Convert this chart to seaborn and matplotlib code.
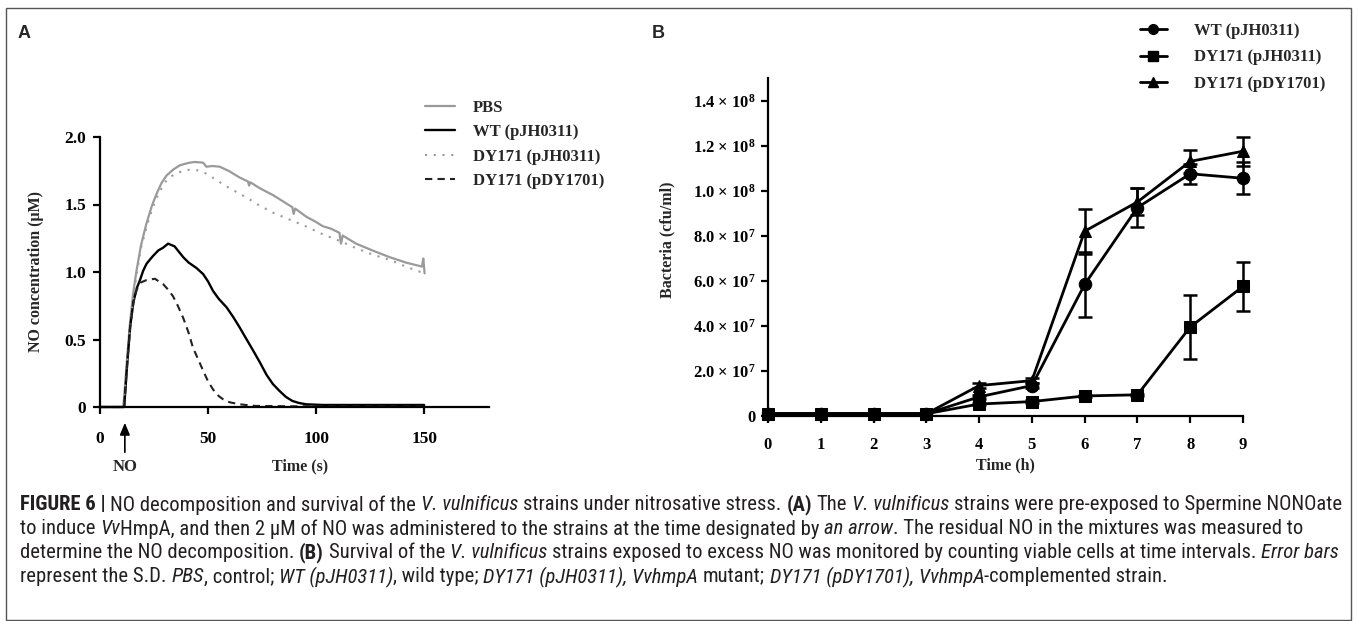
import numpy as np
import pandas as pd
import matplotlib
matplotlib.use("Agg")
import matplotlib.pyplot as plt
import seaborn as sns
from matplotlib import font_manager
from matplotlib.patches import Rectangle
from matplotlib.lines import Line2D

# ---------------- Data: panel A (NO decomposition) ----------------
pbs_t = [0, 10.8, 12.5, 13.8, 15.4, 16.9, 19, 21.5, 24, 26.2, 28.5, 30.8, 34, 36.9, 39, 41.5, 44,
         47.7, 49.2, 52, 55.4, 60, 64.6, 68.5, 69, 69.5, 74, 80, 85, 89, 89.6, 90.3, 95.4, 100, 103,
         107, 110.8, 111.5, 112.3, 118.5, 126, 134, 141.5, 149, 149.6, 150.2]
pbs_v = [0, 0, 0.35, 0.61, 0.85, 1.01, 1.20, 1.36, 1.49, 1.58, 1.66, 1.715, 1.76, 1.79, 1.80, 1.81,
         1.815, 1.81, 1.78, 1.785, 1.78, 1.745, 1.70, 1.67, 1.64, 1.665, 1.62, 1.57, 1.52, 1.48, 1.43,
         1.47, 1.41, 1.37, 1.34, 1.32, 1.29, 1.21, 1.27, 1.21, 1.16, 1.11, 1.07, 1.04, 1.10, 0.99]

dy_t = [0, 10.8, 12.5, 13.8, 15.4, 16.9, 19, 21.5, 24, 26.2, 28.5, 30.8, 34, 36.9, 40, 43, 46, 49,
        52, 55, 60, 64.6, 69, 73, 80, 89, 95, 103, 111, 118, 126, 134, 141.5, 150]
dy_v = [0, 0, 0.33, 0.58, 0.80, 0.98, 1.18, 1.33, 1.46, 1.55, 1.62, 1.68, 1.72, 1.74, 1.755, 1.76,
        1.75, 1.73, 1.70, 1.67, 1.62, 1.58, 1.54, 1.50, 1.44, 1.38, 1.34, 1.28, 1.23, 1.18, 1.13,
        1.09, 1.04, 0.99]

wt_t = [0, 11.2, 12.5, 14, 15.5, 17, 18.5, 20, 21.5, 23, 24.6, 27, 29.2, 31.5, 33, 34.5, 36, 38.5,
        41, 44.6, 47.7, 50, 52.3, 55, 58.5, 61.5, 64.6, 67.5, 70.8, 74, 77, 80, 83, 86, 89, 92,
        95.4, 103, 115, 130, 150]
wt_v = [0, 0, 0.30, 0.60, 0.78, 0.88, 0.94, 1.01, 1.06, 1.09, 1.12, 1.16, 1.18, 1.21, 1.20, 1.19,
        1.16, 1.11, 1.07, 1.03, 0.985, 0.93, 0.86, 0.80, 0.74, 0.67, 0.59, 0.51, 0.42, 0.33, 0.24,
        0.17, 0.12, 0.075, 0.045, 0.03, 0.02, 0.015, 0.015, 0.015, 0.015]

comp_t = [0, 11.2, 12.5, 14, 15.5, 17, 18.5, 21.5, 25.4, 29.2, 31.5, 33.8, 36, 38.5, 41, 43, 45.5,
          47.7, 50, 52.3, 55, 57, 60, 64.6, 72, 90, 120, 150]
comp_v = [0, 0, 0.30, 0.60, 0.78, 0.87, 0.92, 0.94, 0.95, 0.91, 0.87, 0.82, 0.75, 0.66, 0.55, 0.44,
          0.35, 0.27, 0.19, 0.13, 0.08, 0.057, 0.035, 0.02, 0.008, 0.005, 0.005, 0.005]

no_time = 11.5
labels_a = ["PBS", "WT (pJH0311)", "DY171 (pJH0311)", "DY171 (pDY1701)"]

# ---------------- Data: panel B (survival) ----------------
hours = [0, 1, 2, 3, 4, 5, 6, 7, 8, 9]
wt_b = [1e6, 1e6, 1e6, 1e6, 8.5e6, 1.35e7, 5.84e7, 9.25e7, 1.075e8, 1.055e8]
wt_sd = [0, 0, 0, 0, 1e6, 1e6, 1.45e7, 0.85e7, 0.45e7, 0.7e7]
mut_b = [1e6, 1e6, 1e6, 1e6, 5.3e6, 6.4e6, 8.9e6, 9.4e6, 3.95e7, 5.75e7]
mut_sd = [0, 0, 0, 0, 5e5, 5e5, 5e5, 5e5, 1.4e7, 1.1e7]
comp_b = [1e6, 1e6, 1e6, 1e6, 1.35e7, 1.57e7, 8.2e7, 9.5e7, 1.13e8, 1.175e8]
comp_sd = [0, 0, 0, 0, 1e6, 1e6, 1.0e7, 0.6e7, 0.5e7, 0.65e7]
labels_b = ["WT (pJH0311)", "DY171 (pJH0311)", "DY171 (pDY1701)"]
yticks_b = [0, 2e7, 4e7, 6e7, 8e7, 1e8, 1.2e8, 1.4e8]
yticklabels_b = ["0", "2.0 × 10$^{7}$", "4.0 × 10$^{7}$", "6.0 × 10$^{7}$", "8.0 × 10$^{7}$",
                 "1.0 × 10$^{8}$", "1.2 × 10$^{8}$", "1.4 × 10$^{8}$"]

# ---------------- Style ----------------
sns.set_theme(style="ticks")
SERIF = ["Liberation Serif", "DejaVu Serif"]
plt.rcParams["font.family"] = SERIF
plt.rcParams["font.weight"] = "bold"
plt.rcParams["axes.labelweight"] = "bold"
plt.rcParams["mathtext.fontset"] = "custom"
plt.rcParams["mathtext.rm"] = "Liberation Serif:bold"
plt.rcParams["mathtext.bf"] = "Liberation Serif:bold"
plt.rcParams["mathtext.it"] = "Liberation Serif:bold"
plt.rcParams["mathtext.default"] = "bf"

W, H = 1357, 621
fig = plt.figure(figsize=(W / 100, H / 100), dpi=100)
fig.patch.set_facecolor("white")


def px_axes(left, top, right, bottom):
    return fig.add_axes([left / W, 1 - bottom / H, (right - left) / W, (bottom - top) / H])


def style_axes(ax, xlab_pad, ylab_pad, xsize, ysize):
    for s in ["top", "right"]:
        ax.spines[s].set_visible(False)
    for s in ["left", "bottom"]:
        ax.spines[s].set_linewidth(1.6)
        ax.spines[s].set_color("black")
    ax.tick_params(axis="x", direction="out", length=5, width=1.6, pad=xlab_pad,
                   labelsize=xsize, colors="black")
    ax.tick_params(axis="y", direction="out", length=5, width=1.6, pad=ylab_pad,
                   labelsize=ysize, colors="black")
    for lab in ax.get_xticklabels() + ax.get_yticklabels():
        lab.set_fontweight("bold")
    ax.set_facecolor("white")


# ---------------- Panel A ----------------
axA = px_axes(100, 137, 489, 407)
sns.lineplot(x=pbs_t, y=pbs_v, ax=axA, color="#9a9a9a", lw=1.6, clip_on=False, label=labels_a[0])
sns.lineplot(x=wt_t, y=wt_v, ax=axA, color="black", lw=1.7, clip_on=False, label=labels_a[1])
sns.lineplot(x=dy_t, y=dy_v, ax=axA, color="#9a9a9a", lw=1.5, clip_on=False,
             linestyle=(0, (1, 3.2)), label=labels_a[2])
sns.lineplot(x=comp_t, y=comp_v, ax=axA, color="#222222", lw=1.5, clip_on=False,
             linestyle=(0, (3.5, 2.5)), label=labels_a[3])
axA.set_xlim(0, 180)
axA.set_ylim(0, 2.0)
axA.set_xticks([0, 50, 100, 150])
axA.set_xticklabels(["0", "50", "100", "150"])
axA.set_yticks([0, 0.5, 1.0, 1.5, 2.0])
axA.set_yticklabels(["0", "0.5", "1.0", "1.5", "2.0"])
style_axes(axA, 12, 5, 12.5, 12.5)
axA.set_xlabel("Time (s)", fontsize=11.5, fontweight="bold")
axA.set_ylabel("NO concentration (μM)", fontsize=11.5, fontweight="bold")
axA.xaxis.set_label_coords((300 - 100) / 389, -(458 - 407) / 270)
axA.yaxis.set_label_coords((44 - 100) / 389, (407 - 272) / 270)
hA, lA = axA.get_legend_handles_labels()
axA.get_legend().remove()
fig.legend(hA, lA, loc="upper left", bbox_to_anchor=(425 / W, 1 - 100 / H),
           bbox_transform=fig.transFigure, frameon=False, borderpad=0, borderaxespad=0,
           handlelength=1.8, handletextpad=1.05, labelspacing=0.5,
           prop={"family": SERIF, "weight": "bold", "size": 12})

# arrow marking NO addition
axA.annotate("", xy=(no_time, -13 / 270), xycoords=("data", "axes fraction"),
             xytext=(no_time, -48 / 270), textcoords=("data", "axes fraction"),
             arrowprops=dict(arrowstyle="-|>,head_length=0.6,head_width=0.25", color="black", lw=1.2),
             annotation_clip=False)
axA.text(no_time, -60 / 270, "NO", transform=axA.get_xaxis_transform(), ha="center",
         va="center", fontsize=12, fontweight="bold")

# ---------------- Panel B ----------------
axB = px_axes(768, 78, 1243, 416)
series_b = [(comp_b, comp_sd, "^", labels_b[2]), (wt_b, wt_sd, "o", labels_b[0]),
            (mut_b, mut_sd, "s", labels_b[1])]
hrs = np.array(hours)
for vals, sd, mk, lab in series_b:
    v = np.array(vals)
    s = np.array(sd)
    sns.lineplot(x=hours, y=vals, ax=axB, color="black", lw=2.0, marker=mk, markersize=9,
                 markeredgecolor="black", markerfacecolor="black", clip_on=False)
    m = s > 0
    axB.errorbar(hrs[m], v[m], yerr=s[m], fmt="none", ecolor="black", elinewidth=1.8,
                 capsize=5, capthick=1.8, clip_on=False)
axB.set_xlim(0, 9)
axB.set_ylim(0, 1.5e8)
axB.set_xticks(hours)
axB.set_xticklabels([str(h) for h in hours])
axB.set_yticks(yticks_b)
axB.set_yticklabels(yticklabels_b)
style_axes(axB, 10, 4, 12, 12)
axB.set_xlabel("Time (h)", fontsize=11.5, fontweight="bold")
axB.set_ylabel("Bacteria (cfu/ml)", fontsize=11.5, fontweight="bold")
axB.xaxis.set_label_coords((1005 - 768) / 475, -(457 - 416) / 338)
axB.yaxis.set_label_coords((675 - 768) / 475, (416 - 240) / 338)
hB = [Line2D([], [], color="black", lw=2.0, marker=mk, markersize=7) for mk in ["o", "s", "^"]]
fig.legend(hB, labels_b, loc="upper left", bbox_to_anchor=(1140 / W, 1 - 23 / H),
           bbox_transform=fig.transFigure, frameon=False, borderpad=0, borderaxespad=0,
           handlelength=1.6, handletextpad=1.65, labelspacing=0.62,
           prop={"family": SERIF, "weight": "bold", "size": 12})

# ---------------- Panel letters ----------------
SANS_BOLD = ["Liberation Sans", "DejaVu Sans"]
fig.text(18 / W, 1 - 34 / H, "A", fontsize=13, fontweight="bold", family=SANS_BOLD, va="center")
fig.text(652 / W, 1 - 34 / H, "B", fontsize=13, fontweight="bold", family=SANS_BOLD, va="center")

# ---------------- Frame ----------------
fig.add_artist(Rectangle((6 / W, 1 - 620 / H), (1351 - 6) / W, (620 - 8) / H,
                         transform=fig.transFigure, fill=False, edgecolor="#555555", lw=1.0))

# ---------------- Caption ----------------
names = {f.name for f in font_manager.fontManager.ttflist}
cap_family = "Liberation Sans"
for cand in ["Liberation Sans Narrow", "Roboto Condensed", "Open Sans Condensed"]:
    if cand in names:
        cap_family = cand
        break
CAP = [cap_family, "DejaVu Sans"]

caption = [
    [("FIGURE 6 |", "b"), (" NO decomposition and survival of the ", "n"), ("V. vulnificus", "i"),
     (" strains under nitrosative stress. ", "n"), ("(A)", "b"), (" The ", "n"),
     ("V. vulnificus", "i"), (" strains were pre-exposed to Spermine NONOate", "n")],
    [("to induce ", "n"), ("Vv", "i"),
     ("HmpA, and then 2 μM of NO was administered to the strains at the time designated by ", "n"),
     ("an arrow", "i"), (". The residual NO in the mixtures was measured to", "n")],
    [("determine the NO decomposition. ", "n"), ("(B)", "b"), (" Survival of the ", "n"),
     ("V. vulnificus", "i"),
     (" strains exposed to excess NO was monitored by counting viable cells at time intervals. ", "n"),
     ("Error bars", "i")],
    [("represent the S.D. ", "n"), ("PBS", "i"), (", control; ", "n"), ("WT (pJH0311)", "i"),
     (", wild type; ", "n"), ("DY171 (pJH0311), VvhmpA", "i"), (" mutant; ", "n"),
     ("DY171 (pDY1701), VvhmpA", "i"), ("-complemented strain.", "n")],
]
cap_y = [505, 529, 553, 577]
cap_x0 = 20
cap_target = 1340 - cap_x0

renderer = fig.canvas.get_renderer()


def seg_kw(sty, size):
    kw = dict(fontsize=size, family=CAP, fontweight="normal", fontstyle="normal", color="#231f20")
    if sty == "b":
        kw["fontweight"] = "bold"
    if sty == "i":
        kw["fontstyle"] = "italic"
    return kw


def measure(txt, sty, size):
    if not txt:
        return 0.0
    t = fig.text(0, 0, txt, **seg_kw(sty, size))
    w = t.get_window_extent(renderer).width
    t.remove()
    return w


def space_w(sty, size):
    return measure("x x", sty, size) - measure("xx", sty, size)


def line_width(segs, size):
    tot = 0.0
    for txt, sty in segs:
        core = txt.strip()
        nl = len(txt) - len(txt.lstrip(" "))
        nr = len(txt) - len(txt.rstrip(" "))
        tot += measure(core, sty, size) + (nl + nr) * space_w(sty, size)
    return tot


base = 12.0
cap_size = base * cap_target / line_width(caption[0], base)

for segs, yy in zip(caption, cap_y):
    x = cap_x0
    for txt, sty in segs:
        core = txt.strip()
        nl = len(txt) - len(txt.lstrip(" "))
        nr = len(txt) - len(txt.rstrip(" "))
        sw = space_w(sty, cap_size)
        x += nl * sw
        t = fig.text(x / W, 1 - yy / H, core, va="center", ha="left", **seg_kw(sty, cap_size))
        x += t.get_window_extent(renderer).width + nr * sw

fig.savefig("out.png", dpi=100, facecolor="white")
